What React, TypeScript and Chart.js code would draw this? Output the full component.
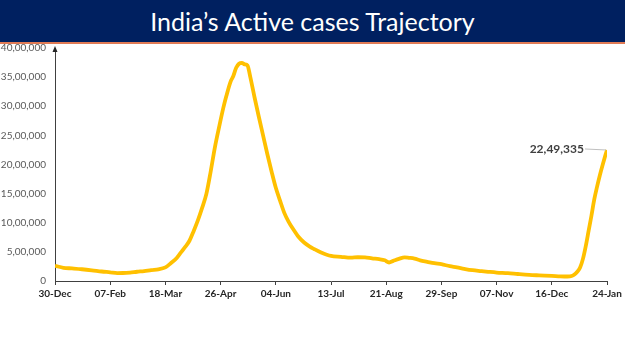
import React, { useEffect, useRef } from 'react';
import { Chart, registerables } from 'chart.js';

Chart.register(...registerables);

const titleText = 'India’s Active cases Trajectory';

const xTickLabels = ['30-Dec', '07-Feb', '18-Mar', '26-Apr', '04-Jun', '13-Jul', '21-Aug', '29-Sep', '07-Nov', '16-Dec', '24-Jan'];
const xTickDays = [0, 39, 78, 117, 156, 195, 234, 273, 312, 351, 390];

const yTicks = [0, 500000, 1000000, 1500000, 2000000, 2500000, 3000000, 3500000, 4000000];

// days since 30-Dec-2020
const dayIndex = [
  0, 6, 12, 19, 26, 33, 39, 44, 48, 53, 58, 63, 68, 73, 78, 82, 86, 89, 92, 95,
  98, 101, 104, 107, 110, 113, 116, 119, 121, 124, 126, 128, 130, 132, 134, 136, 138, 141, 144, 147,
  150, 153, 156, 159, 162, 165, 168, 172, 176, 180, 183, 188, 195, 202, 209, 214, 219, 224, 229, 233,
  236, 239, 243, 247, 250, 254, 258, 263, 268, 273, 279, 284, 289, 295, 301, 306, 312, 320, 327, 335,
  342, 351, 357, 362, 365, 367, 369, 371, 373, 375, 377, 379, 381, 383, 385, 387, 389, 390,
];

const activeCases = [
  262000, 227000, 216000, 202000, 184000, 163000, 149000, 136000, 137000, 145000,
  159000, 170000, 188000, 200000, 234000, 309000, 395000, 490000, 584000, 691000,
  860000, 1046000, 1260000, 1500000, 1880000, 2300000, 2650000, 2980000, 3170000, 3420000,
  3520000, 3660000, 3730000, 3745000, 3720000, 3700000, 3500000, 3150000, 2820000, 2500000,
  2180000, 1880000, 1600000, 1380000, 1170000, 1020000, 900000, 760000, 660000, 590000,
  550000, 490000, 430000, 415000, 400000, 408000, 405000, 388000, 375000, 355000,
  318000, 345000, 380000, 405000, 398000, 385000, 355000, 330000, 305000, 288000,
  255000, 235000, 210000, 185000, 170000, 158000, 145000, 135000, 120000, 105000,
  97000, 88000, 80000, 77000, 85000, 110000, 160000, 230000, 380000, 600000,
  860000, 1120000, 1400000, 1620000, 1820000, 2000000, 2170000, 2249335,
];

function formatIndian(n: number): string {
  const s = Math.round(n).toString();
  if (s.length <= 3) return s;
  const last3 = s.slice(-3);
  let rest = s.slice(0, -3);
  const parts: string[] = [];
  while (rest.length > 2) {
    parts.unshift(rest.slice(-2));
    rest = rest.slice(0, -2);
  }
  if (rest) parts.unshift(rest);
  return parts.join(',') + ',' + last3;
}

const arrowPlugin = {
  id: 'yArrow',
  afterDraw(chart: any) {
    const { ctx, chartArea } = chart;
    const x = chartArea.left;
    const top = chartArea.top;
    ctx.save();
    ctx.fillStyle = '#262626';
    ctx.beginPath();
    ctx.moveTo(x, top - 2);
    ctx.lineTo(x - 2.5, top + 4);
    ctx.lineTo(x + 2.5, top + 4);
    ctx.closePath();
    ctx.fill();
    ctx.restore();
  },
};

const endLabelPlugin = {
  id: 'endLabel',
  afterDatasetsDraw(chart: any) {
    const meta = chart.getDatasetMeta(0);
    const pt = meta.data[meta.data.length - 1];
    if (!pt) return;
    const { ctx } = chart;
    const value = activeCases[activeCases.length - 1];
    ctx.save();
    ctx.strokeStyle = '#BFBFBF';
    ctx.lineWidth = 1;
    ctx.beginPath();
    ctx.moveTo(pt.x - 22, pt.y - 1);
    ctx.lineTo(pt.x - 1, pt.y);
    ctx.stroke();
    ctx.fillStyle = '#404040';
    ctx.font = 'bold 12px Lato';
    ctx.textAlign = 'right';
    ctx.textBaseline = 'middle';
    ctx.fillText(formatIndian(value), pt.x - 23, pt.y - 1);
    ctx.restore();
  },
};

export default function App() {
  const canvasRef = useRef<HTMLCanvasElement | null>(null);

  useEffect(() => {
    document.body.style.margin = '0';
    const canvas = canvasRef.current;
    if (!canvas) return;
    const chart = new Chart(canvas, {
      type: 'line',
      data: {
        datasets: [
          {
            data: dayIndex.map((d, i) => ({ x: d, y: activeCases[i] })),
            borderColor: '#FFC000',
            borderWidth: 3.8,
            pointRadius: 0,
            cubicInterpolationMode: 'monotone',
            fill: false,
          },
        ],
      },
      options: {
        animation: false,
        responsive: false,
        maintainAspectRatio: false,
        layout: { padding: { top: 48, right: 18, bottom: 50, left: 0 } },
        plugins: { legend: { display: false }, tooltip: { enabled: false } },
        scales: {
          x: {
            type: 'linear',
            min: 0,
            max: 390,
            afterBuildTicks: (s: any) => {
              s.ticks = xTickDays.map((v) => ({ value: v }));
            },
            afterFit: (s: any) => {
              s.height = 20;
            },
            ticks: {
              autoSkip: false,
              maxRotation: 0,
              padding: 3,
              color: '#262626',
              font: { family: 'Lato', size: 10, weight: 'bold' },
              callback: (_v: any, i: number) => xTickLabels[i],
            },
            grid: { display: true, drawOnChartArea: false, drawTicks: true, tickLength: 4, color: '#404040' },
            border: { display: true, color: '#404040', width: 1 },
          },
          y: {
            min: 0,
            max: 4000000,
            afterBuildTicks: (s: any) => {
              s.ticks = yTicks.map((v) => ({ value: v }));
            },
            afterFit: (s: any) => {
              s.width = 55;
            },
            ticks: {
              padding: 9,
              color: '#595959',
              font: { family: 'Lato', size: 10 },
              callback: (v: any) => formatIndian(Number(v)),
            },
            grid: { display: false, drawTicks: false },
            border: { display: true, color: '#404040', width: 1 },
          },
        },
      },
      plugins: [arrowPlugin, endLabelPlugin],
    } as any);
    return () => chart.destroy();
  }, []);

  return (
    <div style={{ position: 'relative', width: 625, height: 351, background: '#fff', overflow: 'hidden' }}>
      <canvas ref={canvasRef} width={625} height={351} style={{ position: 'absolute', left: 0, top: 0 }} />
      <div
        style={{
          position: 'absolute',
          left: 0,
          top: 0,
          width: 625,
          height: 42,
          background: '#002060',
          borderBottom: '2px solid #E07B55',
          color: '#fff',
          fontFamily: 'Lato, sans-serif',
          fontSize: 25,
          lineHeight: '42px',
          textAlign: 'center',
        }}
      >
        {titleText}
      </div>
    </div>
  );
}
